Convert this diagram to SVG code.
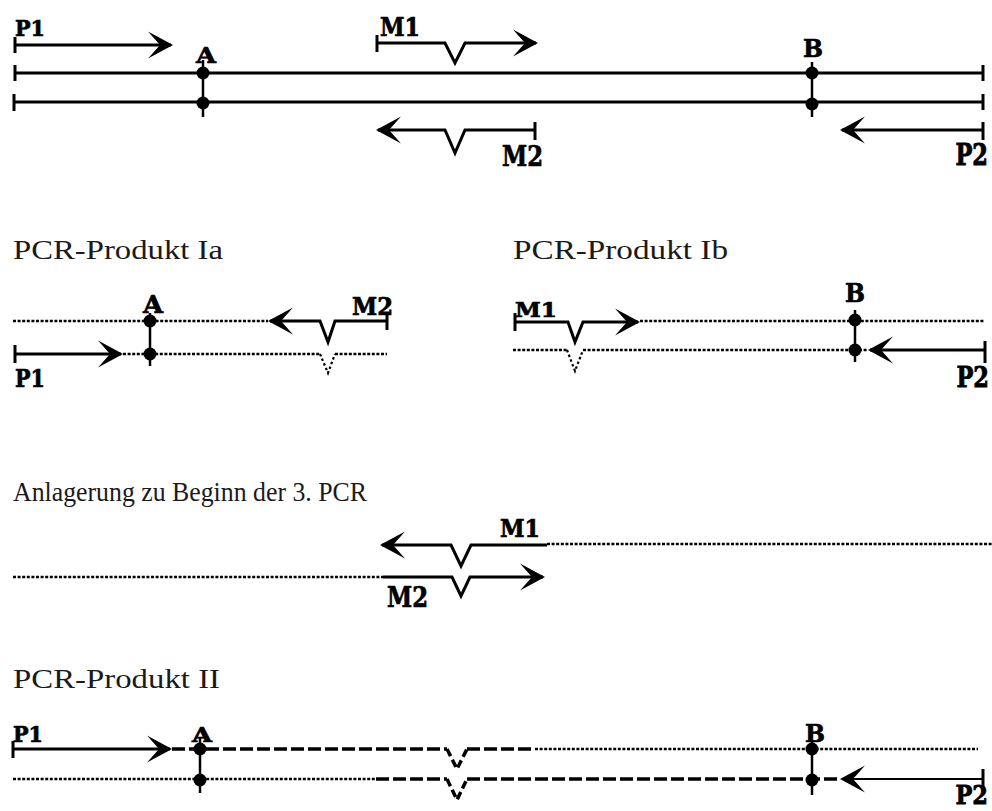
<svg xmlns="http://www.w3.org/2000/svg" width="992" height="811" viewBox="0 0 992 811">
<style>
.s{fill:none;stroke:#000;stroke-width:3}
.t{fill:none;stroke:#000;stroke-width:3}
.v{fill:none;stroke:#000;stroke-width:2.5}
.d{fill:none;stroke:#000;stroke-width:2.7;stroke-dasharray:3 1.6}
.dv{fill:none;stroke:#000;stroke-width:2.2;stroke-dasharray:2.5 2.5}
.ds{fill:none;stroke:#000;stroke-width:3.5;stroke-dasharray:13 4}
.a{marker-end:url(#ah)}
.lb{font-family:"DejaVu Serif","Liberation Serif",serif;font-weight:bold;fill:#000;stroke:#000;stroke-width:0.7}
.ti{font-family:"Liberation Serif","DejaVu Serif",serif;font-size:28px;fill:#1a1a1a}
.dot{fill:#000}
</style>
<defs>
<marker id="ah" markerUnits="userSpaceOnUse" viewBox="-25 -15 30 30" refX="0" refY="0" markerWidth="30" markerHeight="30" orient="auto">
<path d="M2,0 L-23,-13.5 L-11,0 L-23,13.5 Z" fill="#000"/>
</marker>
</defs>

<!-- Section 1: template -->
<g id="template">
<line class="s" x1="15" y1="73" x2="983" y2="73"/>
<line class="t" x1="15" y1="65" x2="15" y2="81"/>
<line class="t" x1="983" y1="65" x2="983" y2="81"/>
<line class="s" x1="14" y1="102" x2="983" y2="102"/>
<line class="t" x1="14" y1="94" x2="14" y2="111"/>
<line class="t" x1="983" y1="94" x2="983" y2="110"/>
</g>
<g id="siteA1">
<line class="v" x1="203" y1="60" x2="203" y2="117"/>
<circle class="dot" cx="203" cy="73" r="6.5"/>
<circle class="dot" cx="203" cy="103" r="6.5"/>
<text class="lb" x="196" y="63" font-size="22" textLength="20" lengthAdjust="spacingAndGlyphs">A</text>
</g>
<g id="siteB1">
<line class="v" x1="812" y1="62" x2="812" y2="117"/>
<circle class="dot" cx="812" cy="73" r="6.5"/>
<circle class="dot" cx="812" cy="104" r="6.5"/>
<text class="lb" x="803" y="56.5" font-size="25" textLength="20" lengthAdjust="spacingAndGlyphs">B</text>
</g>
<g id="P1a">
<line class="t" x1="15" y1="37" x2="15" y2="53"/>
<line class="s a" x1="15" y1="45" x2="171" y2="45"/>
<text class="lb" x="15" y="35.5" font-size="22" textLength="30" lengthAdjust="spacingAndGlyphs">P1</text>
</g>
<g id="M1a">
<line class="t" x1="377" y1="35" x2="377" y2="52"/>
<path class="s a" d="M377,43 H445 L455,63 L465,43 H536"/>
<text class="lb" x="380" y="35.5" font-size="26" textLength="40" lengthAdjust="spacingAndGlyphs">M1</text>
</g>
<g id="M2a">
<line class="t" x1="535" y1="122" x2="535" y2="140"/>
<path class="s a" d="M535,130 H465 L455,153 L445,130 H378"/>
<text class="lb" x="502" y="166" font-size="28" textLength="41" lengthAdjust="spacingAndGlyphs">M2</text>
</g>
<g id="P2a">
<line class="t" x1="983" y1="122" x2="983" y2="140"/>
<line class="s a" x1="983" y1="130" x2="842" y2="130"/>
<text class="lb" transform="translate(988,165) scale(1,1.3)" font-size="22.5" text-anchor="end">P2</text>
</g>

<!-- Section 2a -->
<g id="titleIa"><text class="ti" x="13" y="259" textLength="210" lengthAdjust="spacingAndGlyphs">PCR-Produkt Ia</text></g>
<g id="Ia-top">
<line class="d" x1="13" y1="321" x2="268" y2="321"/>
<line class="t" x1="387" y1="312" x2="387" y2="330"/>
<path class="s a" d="M387,321 H335 L328,342 L320,321 H270"/>
<text class="lb" x="352" y="315" font-size="24" textLength="41" lengthAdjust="spacingAndGlyphs">M2</text>
</g>
<g id="Ia-bottom">
<line class="t" x1="15" y1="345" x2="15" y2="363"/>
<line class="s a" x1="15" y1="354" x2="121" y2="354"/>
<line class="d" x1="123" y1="354" x2="320" y2="354"/>
<path class="dv" d="M320,354 L328,373 L335,354"/>
<line class="d" x1="335" y1="354" x2="387" y2="354"/>
<text class="lb" x="15" y="387" font-size="25" textLength="30" lengthAdjust="spacingAndGlyphs">P1</text>
</g>
<g id="siteA2">
<line class="v" x1="150" y1="313" x2="150" y2="366"/>
<circle class="dot" cx="150" cy="321" r="6.5"/>
<circle class="dot" cx="150" cy="354" r="6.5"/>
<text class="lb" x="143" y="313" font-size="24" textLength="20" lengthAdjust="spacingAndGlyphs">A</text>
</g>

<!-- Section 2b -->
<g id="titleIb"><text class="ti" x="513" y="259" textLength="215" lengthAdjust="spacingAndGlyphs">PCR-Produkt Ib</text></g>
<g id="Ib-top">
<line class="t" x1="515" y1="313" x2="515" y2="331"/>
<path class="s a" d="M515,322 H568 L575,342 L583,322 H638"/>
<line class="d" x1="640" y1="321" x2="985" y2="321"/>
<text class="lb" x="515" y="317" font-size="21" textLength="42" lengthAdjust="spacingAndGlyphs">M1</text>
</g>
<g id="Ib-bottom">
<line class="d" x1="513" y1="350" x2="567" y2="350"/>
<path class="dv" d="M567,350 L575,371 L583,350"/>
<line class="d" x1="583" y1="350" x2="868" y2="350"/>
<line class="t" x1="985" y1="341" x2="985" y2="363"/>
<line class="s a" x1="985" y1="350" x2="870" y2="350"/>
<text class="lb" transform="translate(989,387) scale(1,1.25)" font-size="22.5" text-anchor="end">P2</text>
</g>
<g id="siteB2">
<line class="v" x1="855" y1="310" x2="855" y2="362"/>
<circle class="dot" cx="855" cy="320" r="6.5"/>
<circle class="dot" cx="855" cy="350" r="6.5"/>
<text class="lb" x="845" y="302" font-size="26" textLength="20" lengthAdjust="spacingAndGlyphs">B</text>
</g>

<!-- Section 3 -->
<g id="title3"><text class="ti" x="13" y="501" style="font-size:27px" textLength="354" lengthAdjust="spacingAndGlyphs">Anlagerung zu Beginn der 3. PCR</text></g>
<g id="ann-top">
<path class="s a" d="M547,545 H471 L461,566 L451,545 H382"/>
<line class="d" x1="547" y1="544" x2="992" y2="544"/>
<text class="lb" x="500" y="537" font-size="24" textLength="40" lengthAdjust="spacingAndGlyphs">M1</text>
</g>
<g id="ann-bottom">
<line class="d" x1="13" y1="577" x2="383" y2="577"/>
<path class="s a" d="M383,577 H452 L461,596 L470,577 H543"/>
<text class="lb" x="387" y="607" font-size="27" textLength="41" lengthAdjust="spacingAndGlyphs">M2</text>
</g>

<!-- Section 4 -->
<g id="titleII"><text class="ti" x="13" y="688" textLength="207" lengthAdjust="spacingAndGlyphs">PCR-Produkt II</text></g>
<g id="II-top">
<line class="t" x1="13" y1="741" x2="13" y2="758"/>
<line class="s a" x1="13" y1="749" x2="170" y2="749"/>
<line class="ds" x1="172" y1="749" x2="447" y2="749"/>
<path class="ds" style="stroke-dasharray:8 4" d="M447,749 L457,769 L467,749"/>
<line class="ds" x1="467" y1="749" x2="535" y2="749"/>
<line class="d" x1="535" y1="749" x2="978" y2="749"/>
<text class="lb" x="13" y="742" font-size="22" textLength="30" lengthAdjust="spacingAndGlyphs">P1</text>
</g>
<g id="II-bottom">
<line class="d" x1="13" y1="779" x2="376" y2="779"/>
<line class="ds" x1="376" y1="779" x2="447" y2="779"/>
<path class="ds" style="stroke-dasharray:8 4" d="M447,779 L457,800 L467,779"/>
<line class="ds" x1="467" y1="779" x2="840" y2="779"/>
<line class="t" x1="983" y1="769" x2="983" y2="792"/>
<line class="a" style="fill:none;stroke:#000;stroke-width:2.2" x1="983" y1="779" x2="842" y2="779"/>
<text class="lb" transform="translate(988,804) scale(1,1.15)" font-size="22.5" text-anchor="end">P2</text>
</g>
<g id="siteA4">
<line class="v" x1="200" y1="738" x2="200" y2="793"/>
<circle class="dot" cx="200" cy="749" r="6.5"/>
<circle class="dot" cx="200" cy="780" r="6.5"/>
<text class="lb" x="192" y="742" font-size="21" textLength="20" lengthAdjust="spacingAndGlyphs">A</text>
</g>
<g id="siteB4">
<line class="v" x1="812" y1="740" x2="812" y2="795"/>
<circle class="dot" cx="812" cy="749" r="6.5"/>
<circle class="dot" cx="812" cy="780" r="6.5"/>
<text class="lb" x="805" y="742" font-size="25" textLength="20" lengthAdjust="spacingAndGlyphs">B</text>
</g>
</svg>
